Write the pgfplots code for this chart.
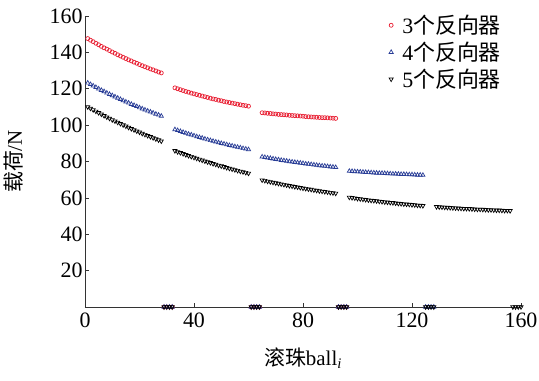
\documentclass[border=0pt]{standalone}
\usepackage{fontspec}
\setmainfont{Liberation Serif}
\newfontfamily\cjk{Noto Sans CJK SC}
\usepackage{pgfplots}
\pgfplotsset{compat=1.18}
\definecolor{cred}{RGB}{232,30,50}
\definecolor{cblue}{RGB}{40,60,150}
\begin{document}
\begin{tikzpicture}
\begin{axis}[
  width=436bp, height=291bp, scale only axis,
  xmin=0, xmax=160, ymin=0, ymax=160,
  axis x line=bottom, axis y line=left,
  axis line style={-, line width=0.7bp, black!80},
  xtick={0,40,80,120,160}, ytick={20,40,60,80,100,120,140,160},
  tick align=inside, major tick length=4bp,
  tick style={line width=0.6bp, black!80},
  /pgf/number format/assume math mode=true,
  tick label style={font=\fontsize{22}{24}\selectfont},
  xticklabel style={yshift=-2bp},
  yticklabel style={xshift=1bp},
  clip=false,
  xlabel={{\cjk 滚珠}ball$_{\mathit{i}}$},
  ylabel={{\cjk 载荷}/N},
  label style={font=\fontsize{21}{24}\selectfont},
  xlabel style={at={(axis description cs:0.5,0)}, anchor=center, yshift=-51bp},
  ylabel style={at={(axis description cs:0,0.5)}, anchor=center, yshift=71bp},
  legend style={draw=none, fill=none, at={(rel axis cs:0.697,1.01)}, anchor=north west,
    font=\fontsize{22}{24}\selectfont, row sep=3bp, inner sep=0pt,
    nodes={inner sep=2bp}},
  legend cell align=left,
  legend image code/.code={\draw[mark repeat=2,mark phase=2] plot coordinates {(0cm,0cm) (0.15cm,0cm) (0.3cm,0cm)};},
]
\addplot[only marks, mark=o, mark size=2bp, cred, mark options={line width=0.7bp}] coordinates {
(1,147.6)(2,146.7)(3,145.9)(4,145.0)(5,144.2)(6,143.3)(7,142.5)(8,141.8)(9,141.0)(10,140.2)(11,139.5)(12,138.7)(13,138.0)(14,137.3)(15,136.6)(16,135.9)(17,135.3)(18,134.6)(19,134.0)(20,133.3)(21,132.7)(22,132.1)(23,131.5)(24,130.9)(25,130.4)(26,129.8)(27,129.2)(28,128.7)
(29,0)(30,0)(31,0)(32,0)
(33,120.5)(34,120.0)(35,119.5)(36,119.0)(37,118.5)(38,118.1)(39,117.6)(40,117.2)(41,116.8)(42,116.4)(43,116.0)(44,115.6)(45,115.2)(46,114.8)(47,114.4)(48,114.1)(49,113.7)(50,113.4)(51,113.0)(52,112.7)(53,112.4)(54,112.1)(55,111.8)(56,111.5)(57,111.2)(58,110.9)(59,110.7)(60,110.4)
(61,0)(62,0)(63,0)(64,0)
(65,106.8)(66,106.7)(67,106.5)(68,106.4)(69,106.2)(70,106.1)(71,105.9)(72,105.8)(73,105.7)(74,105.6)(75,105.4)(76,105.3)(77,105.2)(78,105.1)(79,105.0)(80,104.9)(81,104.7)(82,104.6)(83,104.5)(84,104.4)(85,104.3)(86,104.2)(87,104.1)(88,104.1)(89,104.0)(90,103.9)(91,103.8)(92,103.7)
(93,0)(94,0)(95,0)(96,0)
};
\addlegendentry{\hspace{7bp}3{\cjk 个反向器}}
\addplot[only marks, mark=triangle, mark size=2.4bp, cblue, mark options={line width=0.7bp}] coordinates {
(1,123.2)(2,122.4)(3,121.6)(4,120.8)(5,120.0)(6,119.2)(7,118.5)(8,117.7)(9,117.0)(10,116.3)(11,115.6)(12,114.9)(13,114.2)(14,113.5)(15,112.8)(16,112.2)(17,111.5)(18,110.9)(19,110.3)(20,109.6)(21,109.0)(22,108.4)(23,107.8)(24,107.3)(25,106.7)(26,106.1)(27,105.6)(28,105.0)
(29,0)(30,0)(31,0)(32,0)
(33,97.6)(34,97.1)(35,96.6)(36,96.1)(37,95.6)(38,95.1)(39,94.7)(40,94.2)(41,93.7)(42,93.3)(43,92.9)(44,92.4)(45,92.0)(46,91.6)(47,91.2)(48,90.8)(49,90.4)(50,90.0)(51,89.7)(52,89.3)(53,88.9)(54,88.6)(55,88.2)(56,87.9)(57,87.6)(58,87.2)(59,86.9)(60,86.6)
(61,0)(62,0)(63,0)(64,0)
(65,82.6)(66,82.3)(67,82.0)(68,81.8)(69,81.5)(70,81.2)(71,81.0)(72,80.7)(73,80.5)(74,80.3)(75,80.0)(76,79.8)(77,79.6)(78,79.4)(79,79.2)(80,79.0)(81,78.7)(82,78.6)(83,78.4)(84,78.2)(85,78.0)(86,77.8)(87,77.6)(88,77.5)(89,77.3)(90,77.1)(91,77.0)(92,76.8)
(93,0)(94,0)(95,0)(96,0)
(97,74.7)(98,74.6)(99,74.5)(100,74.4)(101,74.3)(102,74.2)(103,74.1)(104,74.0)(105,73.9)(106,73.8)(107,73.7)(108,73.6)(109,73.6)(110,73.5)(111,73.4)(112,73.3)(113,73.2)(114,73.2)(115,73.1)(116,73.0)(117,73.0)(118,72.9)(119,72.8)(120,72.8)(121,72.7)(122,72.6)(123,72.6)(124,72.5)
(125,0)(126,0)(127,0)(128,0)
};
\addlegendentry{\hspace{7bp}4{\cjk 个反向器}}
\addplot[only marks, mark=triangle, mark size=2.4bp, black, mark options={rotate=180, line width=0.7bp}] coordinates {
(1,110.0)(2,109.2)(3,108.4)(4,107.6)(5,106.8)(6,106.0)(7,105.2)(8,104.4)(9,103.7)(10,102.9)(11,102.2)(12,101.5)(13,100.8)(14,100.1)(15,99.4)(16,98.7)(17,98.0)(18,97.4)(19,96.7)(20,96.1)(21,95.4)(22,94.8)(23,94.2)(24,93.6)(25,93.0)(26,92.4)(27,91.8)(28,91.2)
(29,0)(30,0)(31,0)(32,0)
(33,85.9)(34,85.3)(35,84.8)(36,84.3)(37,83.7)(38,83.2)(39,82.7)(40,82.2)(41,81.7)(42,81.2)(43,80.7)(44,80.2)(45,79.7)(46,79.3)(47,78.8)(48,78.4)(49,77.9)(50,77.5)(51,77.1)(52,76.6)(53,76.2)(54,75.8)(55,75.4)(56,75.0)(57,74.6)(58,74.3)(59,73.9)(60,73.5)
(61,0)(62,0)(63,0)(64,0)
(65,69.8)(66,69.5)(67,69.1)(68,68.8)(69,68.5)(70,68.2)(71,67.9)(72,67.6)(73,67.3)(74,67.0)(75,66.7)(76,66.4)(77,66.1)(78,65.9)(79,65.6)(80,65.3)(81,65.1)(82,64.8)(83,64.6)(84,64.3)(85,64.1)(86,63.8)(87,63.6)(88,63.4)(89,63.2)(90,62.9)(91,62.7)(92,62.5)
(93,0)(94,0)(95,0)(96,0)
(97,60.3)(98,60.1)(99,59.9)(100,59.6)(101,59.4)(102,59.2)(103,59.0)(104,58.8)(105,58.6)(106,58.5)(107,58.3)(108,58.1)(109,57.9)(110,57.7)(111,57.6)(112,57.4)(113,57.3)(114,57.1)(115,56.9)(116,56.8)(117,56.6)(118,56.5)(119,56.4)(120,56.2)(121,56.1)(122,55.9)(123,55.8)(124,55.7)
(125,0)(126,0)(127,0)(128,0)
(129,55.1)(130,55.0)(131,54.9)(132,54.8)(133,54.7)(134,54.6)(135,54.5)(136,54.4)(137,54.3)(138,54.2)(139,54.1)(140,54.1)(141,54.0)(142,53.9)(143,53.8)(144,53.7)(145,53.7)(146,53.6)(147,53.5)(148,53.4)(149,53.4)(150,53.3)(151,53.2)(152,53.2)(153,53.1)(154,53.0)(155,53.0)(156,52.9)
(157,0)(158,0)(159,0)(160,0)
};
\addlegendentry{\hspace{7bp}5{\cjk 个反向器}}
\end{axis}
\pgfresetboundingbox
\path (-85bp,-74bp) rectangle (454bp,307bp);
\end{tikzpicture}
\end{document}
